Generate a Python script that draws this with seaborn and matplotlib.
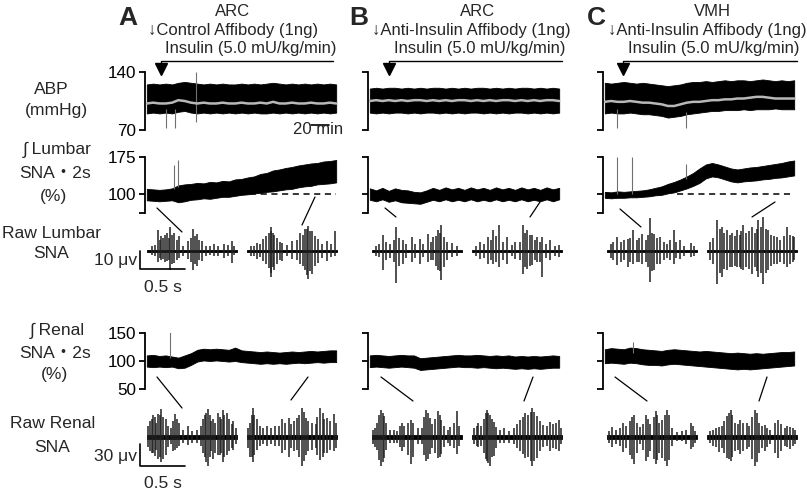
import matplotlib
matplotlib.use("Agg")
import matplotlib.pyplot as plt
import seaborn as sns

sns.set_style("white")
plt.rcParams["font.family"] = ["Liberation Sans", "Noto Sans CJK JP", "DejaVu Sans"]

W, H = 807, 497

# time grid of the slow traces (min)
t_trace = [0, 7, 14, 21, 28, 35, 42, 49, 56, 63, 70, 77, 84, 91, 98, 105,
           112, 119, 126, 133, 140, 147, 154, 161, 168, 175, 182, 189, 196, 203, 210]

# ABP (mmHg): upper / lower envelope and mean
abp_A_hi = [125, 126, 125, 126, 125, 127, 128, 127, 126, 125, 126, 125, 126, 125, 125, 126,
            125, 126, 125, 126, 127, 126, 125, 126, 125, 126, 125, 126, 125, 126, 125]
abp_A_lo = [90, 91, 90, 91, 90, 92, 93, 91, 90, 91, 90, 91, 90, 91, 90, 91,
            90, 91, 90, 90, 91, 90, 91, 90, 91, 90, 91, 90, 91, 90, 91]
abp_A_mean = [102, 103, 102, 102, 103, 106, 105, 103, 102, 103, 102, 102, 103, 102, 102, 103,
              102, 102, 103, 102, 104, 102, 102, 103, 102, 102, 103, 102, 102, 103, 102]
abp_B_hi = [120, 121, 120, 121, 121, 120, 121, 120, 121, 120, 121, 121, 120, 121, 120, 121,
            120, 121, 121, 120, 121, 120, 121, 120, 121, 121, 120, 121, 120, 121, 120]
abp_B_lo = [91, 90, 91, 90, 91, 91, 90, 91, 90, 91, 91, 90, 91, 90, 91, 90,
            91, 91, 90, 91, 90, 91, 90, 91, 91, 90, 91, 90, 91, 90, 91]
abp_B_mean = [105, 106, 105, 106, 105, 106, 105, 106, 106, 105, 106, 105, 106, 105, 106, 106,
              105, 106, 105, 106, 105, 106, 106, 105, 106, 105, 106, 105, 106, 106, 105]
abp_C_hi = [127, 126, 127, 128, 127, 126, 127, 126, 125, 124, 123, 124, 125, 127, 128, 128,
            129, 128, 129, 130, 129, 130, 130, 129, 130, 131, 130, 129, 130, 129, 130]
abp_C_lo = [90, 91, 90, 90, 91, 90, 89, 89, 88, 87, 85, 86, 87, 89, 90, 91,
            92, 93, 93, 94, 94, 94, 95, 94, 95, 95, 95, 96, 95, 95, 95]
abp_C_mean = [104, 105, 104, 104, 105, 104, 103, 103, 102, 101, 99, 99, 101, 103, 104, 104,
              105, 106, 106, 107, 107, 108, 108, 109, 110, 110, 109, 108, 108, 108, 108]

# integrated lumbar SNA (%)
lum_A_hi = [111, 110, 109, 110, 112, 118, 120, 121, 123, 122, 125, 124, 127, 126, 130, 131,
            134, 136, 141, 143, 148, 150, 153, 155, 158, 160, 162, 163, 166, 167, 169]
lum_A_lo = [88, 87, 86, 87, 88, 84, 86, 89, 90, 92, 91, 93, 95, 95, 97, 99,
            100, 102, 103, 105, 106, 108, 110, 111, 114, 116, 117, 120, 121, 122, 124]
lum_B_hi = [112, 108, 113, 107, 112, 109, 108, 105, 104, 108, 113, 109, 114, 110, 113, 109,
            114, 110, 113, 109, 114, 110, 113, 109, 114, 110, 113, 109, 114, 110, 113]
lum_B_lo = [89, 86, 90, 85, 88, 84, 83, 82, 81, 85, 89, 86, 90, 86, 89, 86,
            90, 86, 89, 86, 90, 86, 89, 86, 90, 86, 89, 86, 90, 86, 90]
lum_C_hi = [105, 104, 106, 105, 106, 107, 108, 110, 113, 116, 121, 125, 130, 136, 143, 152,
            160, 163, 160, 156, 152, 150, 152, 154, 155, 157, 159, 161, 163, 166, 168]
lum_C_lo = [93, 92, 93, 93, 94, 94, 95, 96, 98, 99, 102, 104, 108, 112, 117, 123,
            132, 136, 134, 130, 126, 124, 126, 127, 128, 130, 131, 133, 134, 136, 138]

# integrated renal SNA (%)
ren_A_hi = [110, 111, 109, 110, 108, 106, 110, 114, 120, 122, 121, 122, 121, 120, 124, 119,
            118, 117, 116, 117, 116, 115, 116, 117, 116, 117, 118, 117, 118, 119, 119]
ren_A_lo = [90, 89, 90, 89, 90, 87, 88, 93, 99, 101, 100, 101, 100, 99, 100, 98,
            97, 96, 95, 96, 95, 96, 95, 96, 97, 96, 97, 98, 97, 98, 98]
ren_B_hi = [110, 111, 110, 109, 110, 111, 110, 110, 105, 106, 107, 108, 109, 110, 111, 110,
            110, 111, 110, 109, 110, 109, 110, 108, 109, 108, 109, 108, 109, 110, 109]
ren_B_lo = [89, 90, 89, 88, 89, 90, 89, 88, 84, 85, 86, 87, 88, 89, 90, 89,
            89, 88, 89, 88, 87, 88, 87, 86, 87, 86, 87, 86, 87, 88, 88]
ren_C_hi = [121, 123, 122, 121, 124, 123, 121, 120, 119, 118, 120, 121, 120, 119, 118, 117,
            118, 117, 116, 115, 114, 115, 114, 113, 114, 113, 114, 115, 116, 116, 117]
ren_C_lo = [96, 97, 96, 95, 97, 96, 94, 93, 93, 92, 94, 95, 94, 93, 92, 91,
            90, 89, 88, 87, 86, 85, 86, 85, 86, 87, 88, 89, 90, 91, 92]

# artefact spikes on slow traces: (time min, low, high)
abp_A_spk = [(21, 72, 95), (31, 72, 95), (54, 80, 140)]
abp_C_spk = [(13, 72, 95), (90, 72, 92)]
lum_A_spk = [(30, 110, 159), (35, 115, 169)]
lum_C_spk = [(13, 100, 175), (30, 100, 175), (90, 130, 160)]
ren_A_spk = [(26, 105, 152)]
ren_C_spk = [(31, 115, 134)]

# dashed baseline start (min)
lum_A_dash = 114
lum_C_dash = 80

# raw SNA spikes: (time within 1 s segment, up uV, down uV)
raw_lum_A1 = [(0.12, 11.5, 5.9), (0.18, 7.1, 4.4), (0.22, 9.8, 5.5), (0.26, 13.2, 10.4),
              (0.30, 10.1, 6.4), (0.35, 8.2, 3.6), (0.46, 5.5, 4.4), (0.51, 11.9, 10.4),
              (0.55, 9.2, 8.2), (0.61, 5.5, 5.5), (0.74, 3.8, 2.8), (0.85, 3.8, 3.6), (0.94, 5.5, 6.4),
              (0.05, 2.5, 2.0), (0.09, 3.5, 2.5), (0.14, 6, 4), (0.16, 8, 5), (0.20, 9, 6),
              (0.24, 7, 5), (0.28, 9, 7), (0.33, 6, 5), (0.40, 3, 2.5), (0.49, 7, 6), (0.53, 8, 7),
              (0.58, 6, 5), (0.66, 3, 2.5), (0.70, 2.5, 2), (0.79, 3, 2.5), (0.90, 3.5, 3), (0.97, 2.5, 2)]
raw_lum_A2 = [(0.11, 4.6, 4.4), (0.18, 6.4, 5.5), (0.24, 10.1, 9.1), (0.27, 13.3, 14.0),
              (0.30, 9.0, 10.4), (0.39, 4.6, 5.5), (0.50, 5.5, 4.4), (0.59, 10.1, 7.2),
              (0.64, 11.9, 10.4), (0.68, 13.7, 15.2), (0.72, 10.9, 12.6), (0.79, 6.4, 6.4),
              (0.89, 5.5, 5.5), (0.98, 10.9, 2.8),
              (0.04, 3, 2.5), (0.08, 3, 3), (0.14, 4, 3.5), (0.21, 8, 7), (0.26, 11, 12), (0.29, 10, 9),
              (0.33, 7, 7), (0.36, 5, 5), (0.44, 3.5, 3), (0.55, 6, 5), (0.62, 9, 8), (0.66, 12, 13),
              (0.70, 11, 11), (0.75, 8, 8), (0.83, 4, 4), (0.93, 4, 3.5)]
raw_lum_B1 = [(0.12, 8.6, 10.6), (0.27, 13.2, 17.4), (0.34, 5.9, 7.0), (0.44, 7.7, 6.0),
              (0.53, 6.7, 7.0), (0.62, 9.5, 6.0), (0.68, 7.7, 5.0), (0.73, 11.4, 10.6),
              (0.77, 14.0, 15.6), (0.80, 7.7, 8.8), (0.89, 4.1, 3.2),
              (0.04, 3, 3), (0.08, 4, 3.5), (0.16, 5, 5), (0.20, 4, 4), (0.24, 6, 6), (0.30, 7, 8),
              (0.38, 4, 4), (0.48, 4, 4), (0.57, 4, 3.5), (0.65, 5, 5), (0.71, 8, 8), (0.75, 10, 11),
              (0.83, 5, 5), (0.94, 3, 3)]
raw_lum_B2 = [(0.09, 4.9, 4.2), (0.18, 7.7, 7.0), (0.23, 11.4, 7.0), (0.30, 14.0, 8.8),
              (0.39, 7.7, 7.0), (0.48, 4.9, 4.2), (0.57, 14.0, 12.4), (0.61, 11.4, 9.6),
              (0.67, 8.6, 7.8), (0.72, 7.7, 6.0), (0.78, 7.7, 14.3), (0.87, 5.9, 5.0), (0.96, 3.1, 3.2),
              (0.04, 3, 3), (0.13, 4, 4), (0.21, 6, 5), (0.26, 8, 6), (0.34, 5, 5), (0.44, 3.5, 3),
              (0.53, 5, 5), (0.59, 10, 9), (0.64, 9, 8), (0.70, 6, 5), (0.75, 5, 6), (0.82, 4, 4),
              (0.92, 3, 3)]
raw_lum_C1 = [(0.11, 7.7, 7.8), (0.23, 6.7, 8.8), (0.29, 11.4, 7.0), (0.39, 9.5, 7.0),
              (0.48, 17.8, 16.9), (0.52, 9.5, 10.6), (0.59, 7.7, 7.0), (0.74, 11.4, 7.0),
              (0.81, 5.9, 4.2), (0.93, 4.1, 3.2),
              (0.04, 4, 4), (0.07, 5, 5), (0.15, 5, 6), (0.19, 6, 5), (0.26, 7, 6), (0.33, 6, 6),
              (0.36, 7, 6), (0.43, 6, 6), (0.46, 9, 9), (0.50, 10, 11), (0.55, 7, 7), (0.63, 5, 5),
              (0.67, 4, 4), (0.70, 6, 5), (0.77, 5, 4), (0.86, 3, 3), (0.97, 3, 3)]
raw_lum_C2 = [(0.11, 16.8, 17.9), (0.17, 13.3, 14.3), (0.22, 11.4, 10.6), (0.33, 11.4, 8.8),
              (0.40, 14.0, 10.6), (0.50, 13.3, 12.4), (0.57, 16.8, 14.3), (0.62, 18.6, 17.9),
              (0.68, 11.4, 10.6), (0.78, 7.7, 7.0), (0.89, 13.3, 8.8), (0.97, 7.7, 5.0),
              (0.03, 5, 5), (0.07, 7, 7), (0.14, 12, 12), (0.19, 10, 10), (0.25, 9, 9), (0.28, 10, 9),
              (0.31, 8, 8), (0.36, 9, 9), (0.38, 11, 10), (0.43, 10, 9), (0.46, 11, 10), (0.53, 10, 9),
              (0.55, 12, 11), (0.60, 13, 12), (0.65, 12, 12), (0.71, 9, 8), (0.74, 8, 7), (0.81, 6, 6),
              (0.85, 8, 7), (0.92, 9, 7), (0.95, 8, 6)]

raw_ren_A1 = [(0.03, 22, 20), (0.07, 30, 23), (0.12, 32, 30), (0.16, 39, 35), (0.21, 25, 25),
              (0.31, 32, 18), (0.35, 20, 13), (0.46, 15, 11), (0.55, 10, 8), (0.64, 30, 28),
              (0.68, 39, 40), (0.73, 25, 30), (0.79, 34, 25), (0.84, 37, 35), (0.89, 34, 25),
              (0.96, 22, 18),
              (0.01, 15, 14), (0.05, 25, 22), (0.09, 28, 26), (0.10, 20, 18), (0.14, 30, 28),
              (0.18, 28, 30), (0.23, 15, 14), (0.27, 12, 10), (0.29, 22, 20), (0.33, 25, 15),
              (0.40, 10, 8), (0.50, 9, 8), (0.60, 15, 12), (0.62, 25, 22), (0.66, 34, 35),
              (0.70, 30, 28), (0.71, 22, 20), (0.76, 20, 22), (0.81, 28, 25), (0.82, 25, 22),
              (0.86, 30, 28), (0.91, 25, 20), (0.94, 18, 15), (0.99, 12, 10)]
raw_ren_A2 = [(0.03, 20, 28), (0.06, 40, 35), (0.11, 25, 18), (0.22, 15, 13), (0.31, 15, 13),
              (0.39, 25, 23), (0.46, 27, 28), (0.55, 27, 18), (0.61, 41, 40), (0.65, 27, 25),
              (0.72, 20, 18), (0.81, 41, 32), (0.89, 27, 23), (0.96, 32, 20),
              (0.01, 12, 15), (0.05, 30, 28), (0.08, 30, 25), (0.14, 15, 12), (0.18, 12, 10),
              (0.26, 13, 10), (0.35, 15, 12), (0.42, 20, 18), (0.49, 18, 15), (0.52, 22, 20),
              (0.58, 30, 28), (0.63, 35, 33), (0.68, 22, 20), (0.76, 18, 15), (0.78, 28, 25),
              (0.84, 33, 28), (0.86, 25, 22), (0.92, 22, 18), (0.99, 20, 15)]
raw_ren_B1 = [(0.03, 12, 14), (0.10, 38, 40), (0.13, 29, 29), (0.24, 10, 8), (0.33, 19, 19),
              (0.43, 24, 38), (0.51, 12, 10), (0.60, 38, 33), (0.64, 26, 24), (0.73, 36, 29),
              (0.77, 24, 24), (0.87, 14, 12), (0.94, 36, 24),
              (0.01, 10, 10), (0.06, 20, 18), (0.08, 30, 32), (0.12, 33, 35), (0.16, 20, 18),
              (0.20, 10, 9), (0.28, 9, 8), (0.31, 15, 14), (0.36, 15, 14), (0.40, 20, 25),
              (0.46, 20, 28), (0.55, 12, 10), (0.58, 28, 25), (0.62, 33, 30), (0.67, 18, 16),
              (0.70, 25, 22), (0.75, 30, 28), (0.80, 15, 14), (0.84, 10, 9), (0.91, 20, 15),
              (0.97, 15, 12)]
raw_ren_B2 = [(0.07, 19, 14), (0.16, 38, 33), (0.20, 31, 40), (0.24, 21, 26), (0.35, 12, 9),
              (0.53, 24, 19), (0.59, 33, 29), (0.67, 40, 40), (0.72, 29, 29), (0.79, 17, 14),
              (0.87, 21, 19), (0.96, 24, 19),
              (0.02, 12, 10), (0.05, 15, 12), (0.10, 15, 12), (0.13, 25, 22), (0.15, 33, 30),
              (0.18, 34, 36), (0.22, 25, 28), (0.27, 14, 15), (0.31, 10, 9), (0.41, 9, 8),
              (0.47, 12, 10), (0.50, 18, 15), (0.56, 28, 24), (0.62, 30, 28), (0.65, 35, 34),
              (0.69, 35, 34), (0.75, 22, 20), (0.83, 15, 12), (0.90, 18, 15), (0.93, 20, 17),
              (0.99, 12, 10)]
raw_ren_C1 = [(0.06, 14, 14), (0.18, 19, 21), (0.30, 31, 38), (0.37, 14, 10), (0.43, 31, 33),
              (0.54, 36, 38), (0.61, 24, 29), (0.67, 38, 40), (0.78, 7, 6), (0.93, 19, 17),
              (0.02, 8, 8), (0.10, 10, 10), (0.14, 12, 12), (0.21, 15, 16), (0.26, 22, 25),
              (0.28, 28, 30), (0.33, 20, 22), (0.40, 18, 18), (0.45, 25, 28), (0.48, 18, 20),
              (0.52, 28, 30), (0.56, 30, 32), (0.58, 20, 22), (0.64, 30, 33), (0.69, 30, 32),
              (0.72, 12, 12), (0.83, 8, 6), (0.88, 10, 10), (0.95, 15, 14), (0.98, 8, 8)]
raw_ren_C2 = [(0.13, 14, 21), (0.22, 29, 29), (0.26, 38, 33), (0.37, 24, 24), (0.44, 19, 17),
              (0.53, 38, 40), (0.64, 17, 19), (0.79, 24, 29), (0.92, 14, 17),
              (0.03, 8, 8), (0.07, 10, 12), (0.10, 12, 14), (0.16, 15, 16), (0.19, 22, 22),
              (0.24, 33, 30), (0.28, 30, 28), (0.31, 20, 20), (0.34, 18, 18), (0.40, 20, 20),
              (0.47, 15, 14), (0.50, 28, 30), (0.55, 33, 35), (0.58, 20, 22), (0.61, 15, 16),
              (0.67, 12, 14), (0.70, 10, 10), (0.75, 20, 22), (0.82, 18, 20), (0.86, 12, 12),
              (0.89, 15, 14), (0.95, 12, 12), (0.98, 10, 10)]

fig = plt.figure(figsize=(W / 100, H / 100), dpi=100)


def box(x0, y0, x1, y1):
    return [x0 / W, 1 - y1 / H, (x1 - x0) / W, (y1 - y0) / H]


def trace_axes(x0, y0, y1, ylim, ticks, labels):
    ax = fig.add_axes(box(x0, y0, x0 + 193, y1))
    ax.set_facecolor("none")
    ax.set_xlim(-2, 212)
    ax.set_ylim(*ylim)
    for s in ["top", "right", "bottom"]:
        ax.spines[s].set_visible(False)
    ax.spines["left"].set_linewidth(1.3)
    ax.spines["left"].set_color("black")
    ax.set_xticks([])
    ax.set_yticks(ticks)
    ax.set_yticklabels(labels)
    ax.tick_params(axis="y", left=True, direction="out", length=4.5, width=1.3,
                   labelsize=12.3, pad=2, colors="black")
    return ax


def draw_trace(ax, lo, hi, mean=None, spikes=None):
    if spikes:
        ts, a, b = zip(*spikes)
        ax.vlines(ts, a, b, color="#707070", lw=0.8)
    ax.fill_between(t_trace, lo, hi, color="black", lw=0.6)
    if mean is not None:
        sns.lineplot(x=t_trace, y=mean, ax=ax, color="#b8b8b8", lw=1.8)


def raw_axes(x0, y0, y1, lim):
    ax = fig.add_axes(box(x0, y0, x0 + 200, y1))
    ax.set_facecolor("none")
    ax.set_xlim(0, 200 / 90)
    ax.set_ylim(-lim, lim)
    ax.axis("off")
    return ax


def draw_raw(ax, start, spikes, noise):
    ax.fill_between([start, start + 1.0], -noise, noise, color="black", lw=0.6)
    ts, up, dn = zip(*spikes)
    ax.vlines([start + t for t in ts], [-d for d in dn], up, color="#202020", lw=1.1,
              clip_on=False)


seg_starts = [0.078, 1.19]
cols = [
    dict(tx=145, rx=140, abp=(abp_A_lo, abp_A_hi, abp_A_mean, abp_A_spk),
         lum=(lum_A_lo, lum_A_hi, lum_A_spk, lum_A_dash), ren=(ren_A_lo, ren_A_hi, ren_A_spk),
         rl=(raw_lum_A1, raw_lum_A2), rr=(raw_ren_A1, raw_ren_A2), lab=True),
    dict(tx=368, rx=365, abp=(abp_B_lo, abp_B_hi, abp_B_mean, None),
         lum=(lum_B_lo, lum_B_hi, None, None), ren=(ren_B_lo, ren_B_hi, None),
         rl=(raw_lum_B1, raw_lum_B2), rr=(raw_ren_B1, raw_ren_B2), lab=False),
    dict(tx=603, rx=600, abp=(abp_C_lo, abp_C_hi, abp_C_mean, abp_C_spk),
         lum=(lum_C_lo, lum_C_hi, lum_C_spk, lum_C_dash), ren=(ren_C_lo, ren_C_hi, ren_C_spk),
         rl=(raw_lum_C1, raw_lum_C2), rr=(raw_ren_C1, raw_ren_C2), lab=False),
]

for c in cols:
    lab = c["lab"]
    ax = trace_axes(c["tx"], 72, 130, (70, 140), [70, 140], ["70", "140"] if lab else ["", ""])
    lo, hi, mean, spk = c["abp"]
    draw_trace(ax, lo, hi, mean, spk)
    if lab:
        # 20 min time bar
        ax.plot([182, 202], [76, 76], color="black", lw=1.2, clip_on=False)

    ax = trace_axes(c["tx"], 157, 213, (62.5, 175), [62.5, 100, 175],
                    ["", "100", "175"] if lab else ["", "", ""])
    lo, hi, spk, dash = c["lum"]
    draw_trace(ax, lo, hi, None, spk)
    if dash is not None:
        ax.plot([dash, 210], [100, 100], color="black", lw=1.1, ls=(0, (4, 3)))

    ax = trace_axes(c["tx"], 333, 389, (50, 150), [50, 100, 150],
                    ["50", "100", "150"] if lab else ["", "", ""])
    lo, hi, spk = c["ren"]
    draw_trace(ax, lo, hi, None, spk)

    ax = raw_axes(c["rx"], 214, 288, 20.2)
    for s, seg in zip(seg_starts, c["rl"]):
        draw_raw(ax, s, seg, 0.8)
    if lab:
        ax.plot([0, 0, 0.5], [0, -10, -10], color="black", lw=1.2, clip_on=False)

    ax = raw_axes(c["rx"], 395, 479, 58.6)
    for s, seg in zip(seg_starts, c["rr"]):
        draw_raw(ax, s, seg, 2.3)
    if lab:
        ax.plot([0, 0, 0.5], [-10, -40, -40], color="black", lw=1.2, clip_on=False)

# overlay for text, arrows and connector lines (pixel coordinates)
ov = fig.add_axes([0, 0, 1, 1])
ov.set_xlim(0, W)
ov.set_ylim(H, 0)
ov.axis("off")
ov.set_facecolor("none")

fs_head = 12
fs = 12.6
for letter, lx, site, sx, drug, dx, ix, ix1 in [
    ("A", 128, "ARC", 233, "Control Affibody (1ng)", 148, 161, 333),
    ("B", 359, "ARC", 478, "Anti-Insulin Affibody (1ng)", 372, 389, 562),
    ("C", 596, "VMH", 712, "Anti-Insulin Affibody (1ng)", 608, 623, 797),
]:
    ov.text(lx, 18, letter, fontsize=19, fontweight="bold", ha="center", va="center")
    ov.text(sx, 12, site, fontsize=fs_head, ha="center", va="center")
    ov.text(dx, 31, "\u2193" + drug, fontsize=fs_head, ha="left", va="center")
    ov.text((ix + ix1) / 2 + 4, 48, "Insulin (5.0 mU/kg/min)", fontsize=fs_head,
            ha="center", va="center")
    ov.plot([ix1, ix, ix], [61, 61, 67], color="black", lw=1.0)
    ov.plot([ix], [69], marker="v", ms=8, color="black")

row_labels = [("ABP", 51, 89), ("(mmHg)", 57, 110),
              ("\u222b Lumbar", 57, 150), ("SNA\u30fb2s", 55, 174), ("(%)", 54, 196),
              ("Raw Lumbar", 52, 234), ("SNA", 51, 254),
              ("\u222b Renal", 57, 331), ("SNA\u30fb2s", 55, 353), ("(%)", 55, 374),
              ("Raw Renal", 53, 424), ("SNA", 52, 447)]
for txt, x, y in row_labels:
    ov.text(x, y, txt, fontsize=fs, ha="center", va="center")

ov.text(318, 129, "20 min", fontsize=fs_head, ha="center", va="center")
ov.text(137, 261, "10 \u03bcv", fontsize=fs, ha="right", va="center")
ov.text(163, 288, "0.5 s", fontsize=fs, ha="center", va="center")
ov.text(137, 456, "30 \u03bcv", fontsize=fs, ha="right", va="center")
ov.text(163, 483, "0.5 s", fontsize=fs, ha="center", va="center")

connectors = [((157, 208), (182, 232)), ((315, 197), (302, 225)),
              ((385, 208), (396, 217)), ((540, 202), (530, 217)),
              ((620, 209), (641, 227)), ((775, 202), (752, 217)),
              ((157, 377), (182, 408)), ((308, 377), (291, 400)),
              ((381, 377), (413, 401)), ((533, 377), (524, 401)),
              ((615, 377), (647, 401)), ((767, 377), (759, 401))]
for (x0, y0), (x1, y1) in connectors:
    ov.plot([x0, x1], [y0, y1], color="black", lw=0.9)

fig.savefig("out.png", dpi=100)
